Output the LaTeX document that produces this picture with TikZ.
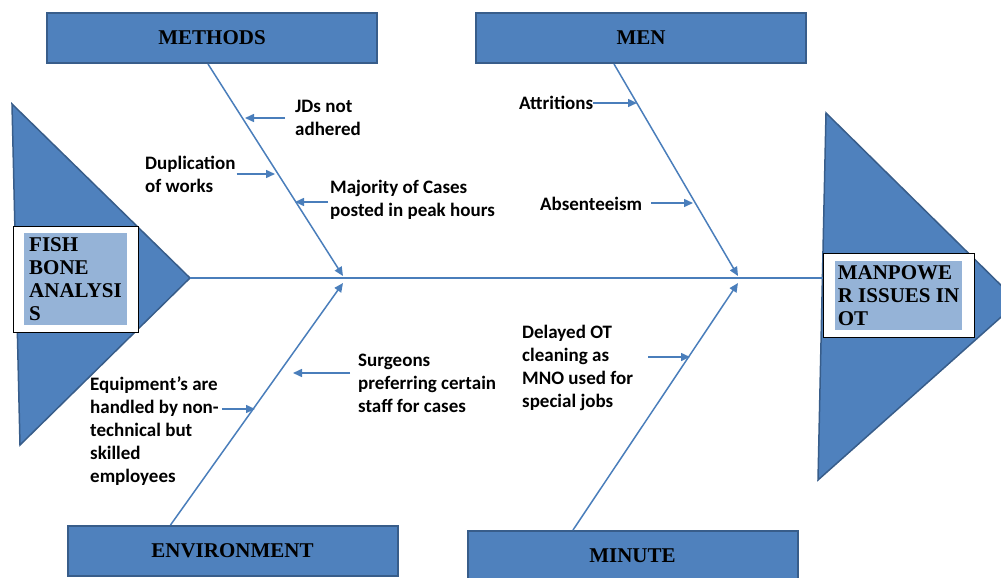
\documentclass[tikz,border=0pt]{standalone}
\usepackage{fontspec}
\setmainfont{Liberation Serif}
\newfontfamily\labelfont{Carlito}
\usetikzlibrary{arrows.meta,calc}

\definecolor{fishblue}{HTML}{4F81BD}
\definecolor{fishedge}{HTML}{385D8A}
\definecolor{boneline}{HTML}{4A7EBB}
\definecolor{paleblue}{HTML}{95B3D7}

\begin{document}
\begin{tikzpicture}[x=1pt, y=-1pt,
    >={Triangle[length=9pt,width=8pt]},
    catbox/.style={draw=fishedge, line width=2pt, fill=fishblue,
      minimum width=330pt, minimum height=50pt,
      font=\bfseries\fontsize{21}{23}\selectfont},
    headbox/.style={draw=black, thick, fill=white},
    headtext/.style={fill=paleblue, align=left, inner sep=1pt,
      font=\bfseries\fontsize{21}{23}\selectfont},
    cause/.style={anchor=west, align=left, inner sep=0pt,
      font=\labelfont\bfseries\fontsize{19}{23}\selectfont},
    bone/.style={draw=boneline, line width=1.5pt}]

      \useasboundingbox (0,0) rectangle (1001,578);

      % tail and head of the fish
      \filldraw[fill=fishblue, draw=fishedge, line width=1.5pt]
      (12,104) -- (190,278) -- (20,445) -- cycle;

      \filldraw[fill=fishblue, draw=fishedge, line width=1.5pt]
      (826,113) -- (1018,302) -- (818,480) -- cycle;

      \coordinate (tail) at (190,278);

      \node (fishbox) at (75.5,279) [headbox, minimum width=125pt,
      minimum height=106pt] {};

      \node (fishtxt) at (75.5,279) [headtext, minimum width=103pt,
      minimum height=92pt] {FISH\\BONE\\ANALYSI\\S};

      \node (manbox) at (898.5,295) [headbox, minimum width=151pt,
      minimum height=84pt] {};

      \node (mantxt) at (898.5,295.5) [headtext, minimum width=127pt,
      minimum height=69pt] {MANPOWE\\R ISSUES IN\\OT};

      % categories
      \node (methods) at (212,38) [catbox] {METHODS};

      \node (men) at (641,38) [catbox] {MEN};

      \node (env) at (232.5,551) [catbox] {ENVIRONMENT};

      \node (minute) at (632.5,556) [catbox] {MINUTE};

      % causes
      \node (jds) at (295,118) [cause] {JDs not\\adhered};

      \node (dup) at (145,174) [cause] {Duplication\\of works};

      \node (maj) at (330,200) [cause] {Majority of Cases\\posted in peak hours};

      \node (attr) at (519,103) [cause] {Attritions};

      \node (abs) at (540,204) [cause] {Absenteeism};

      \node (surg) at (358,383) [cause] {Surgeons\\preferring certain\\staff for cases};

      \node (equip) at (90,431) [cause] {Equipment’s are\\handled by non-\\technical but\\skilled\\employees};

      \node (delay) at (522,368) [cause] {Delayed OT\\cleaning as\\MNO used for\\special jobs};

      % ends of the bones
      \coordinate (methodsEnd) at (343,276);
      \coordinate (envEnd) at (343,283);
      \coordinate (menEnd) at (738,276);
      \coordinate (minuteEnd) at (738,283);

      \coordinate (jdsTip) at (245,118);
      \coordinate (dupTip) at (275,174);
      \coordinate (majTip) at (295,202);
      \coordinate (attrTip) at (637,103);
      \coordinate (absTip) at (693,203);
      \coordinate (surgTip) at (293,373);
      \coordinate (equipTip) at (255,409);
      \coordinate (delayTip) at (690,357);

      \draw[bone] (tail) -- (tail -| manbox.west);

      \draw[bone,->] ([xshift=-4pt]methods.south) -- (methodsEnd);

      \draw[bone,->] ([xshift=-62pt]env.north) -- (envEnd);

      \draw[bone,->] ([xshift=-27pt]men.south) -- (menEnd);

      \draw[bone,->] ([xshift=-59.5pt]minute.north) -- (minuteEnd);

      \draw[bone,->] ($(jds.west)+(-10,0)$) -- (jdsTip);

      \draw[bone,->] ($(dup.east |- dupTip)+(1,0)$) -- (dupTip);

      \draw[bone,->] ($(maj.west |- majTip)+(-2,0)$) -- (majTip);

      \draw[bone,->] (attr.east) -- (attrTip);

      \draw[bone,->] ($(abs.east |- absTip)+(9,0)$) -- (absTip);

      \draw[bone,->] ($(surg.west |- surgTip)+(-8,0)$) -- (surgTip);

      \draw[bone,->] ($(equip.east |- equipTip)+(3,0)$) -- (equipTip);

      \draw[bone,->] ($(delay.east |- delayTip)+(15,0)$) -- (delayTip);
\end{tikzpicture}
\end{document}
